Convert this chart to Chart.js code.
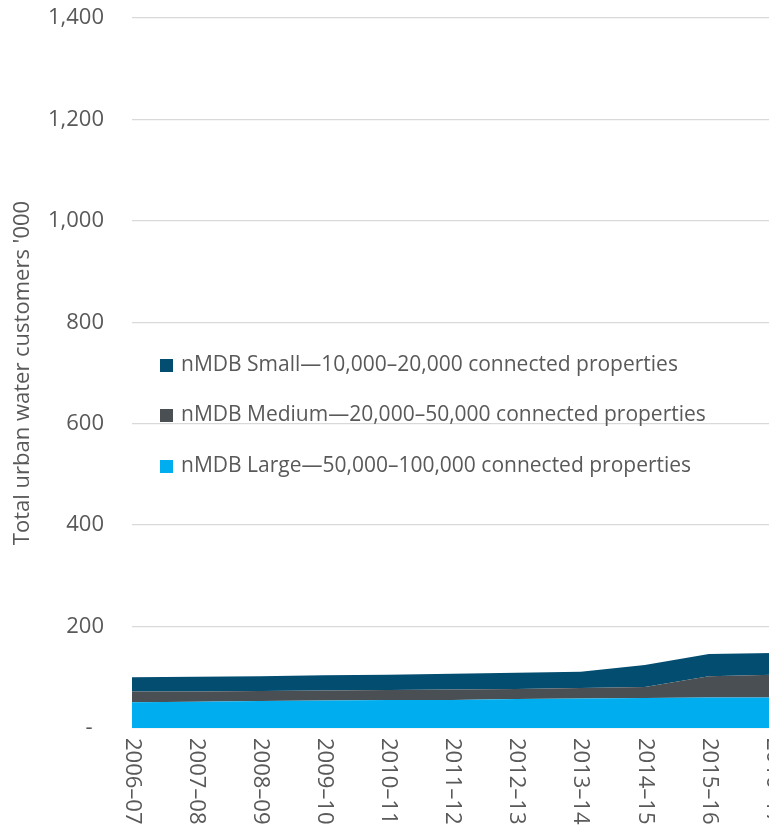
<!DOCTYPE html>
<html>
<head>
<meta charset="utf-8">
<script src="https://cdn.jsdelivr.net/npm/chart.js@4/dist/chart.umd.min.js"></script>
<style>
html,body{margin:0;padding:0;background:#fff;overflow:hidden;width:769px;height:834px;}
#wrap{width:790px;height:834px;}
</style>
</head>
<body>
<div id="wrap"><canvas id="c" width="790" height="834"></canvas></div>
<script>
const categories = ["2006–07","2007–08","2008–09","2009–10","2010–11","2011–12","2012–13","2013–14","2014–15","2015–16","2016–17"];
const largeValues  = [51, 52, 53, 54, 55, 55, 57, 58, 59, 60, 60];
const mediumValues = [21, 20, 20, 20, 20, 21, 20, 21, 22, 42, 45];
const smallValues  = [28, 29, 29, 30, 30, 31, 32, 32, 43, 44, 43];
const seriesNames = [
  "nMDB Large—50,000–100,000 connected properties",
  "nMDB Medium—20,000–50,000 connected properties",
  "nMDB Small—10,000–20,000 connected properties"
];
const yTicks = [0, 200, 400, 600, 800, 1000, 1200, 1400];
const yTitle = "Total urban water customers '000";

const FONT = "'Open Sans', sans-serif";
const TEXT = "#595959";

const xLabelPlugin = {
  id: 'xLabels',
  afterDraw(chart) {
    const ctx = chart.ctx, xs = chart.scales.x, area = chart.chartArea;
    ctx.save();
    ctx.font = "22px " + FONT;
    ctx.fillStyle = TEXT;
    ctx.textAlign = 'left';
    ctx.textBaseline = 'middle';
    xs.ticks.forEach((t, i) => {
      const x = xs.getPixelForTick(i);
      ctx.save();
      ctx.translate(x, area.bottom + 10);
      ctx.rotate(Math.PI / 2);
      ctx.fillText(categories[i], 0, 0);
      ctx.restore();
    });
    ctx.restore();
  }
};

const legendPlugin = {
  id: 'innerLegend',
  afterDraw(chart) {
    const ctx = chart.ctx;
    ctx.save();
    ctx.font = "21px " + FONT;
    ctx.textAlign = 'left';
    ctx.textBaseline = 'middle';
    const order = [2, 1, 0];
    const ys = [365, 415, 466];
    order.forEach((di, k) => {
      const ds = chart.data.datasets[di];
      ctx.fillStyle = ds.backgroundColor;
      ctx.fillRect(160, ys[k] - 6, 13, 13);
      ctx.fillStyle = TEXT;
      ctx.fillText(ds.label, 181, ys[k]);
    });
    ctx.restore();
  }
};

new Chart(document.getElementById('c'), {
  type: 'line',
  data: {
    labels: categories,
    datasets: [
      { label: seriesNames[0], data: largeValues, backgroundColor: '#00ADEE', borderWidth: 0, fill: 'origin', pointRadius: 0, tension: 0 },
      { label: seriesNames[1], data: mediumValues, backgroundColor: '#4A4F54', borderWidth: 0, fill: '-1', pointRadius: 0, tension: 0 },
      { label: seriesNames[2], data: smallValues, backgroundColor: '#034D71', borderWidth: 0, fill: '-1', pointRadius: 0, tension: 0 }
    ]
  },
  options: {
    responsive: false,
    animation: false,
    layout: { padding: { top: 18, right: 17, bottom: 98, left: 0 } },
    plugins: { legend: { display: false }, tooltip: { enabled: false } },
    scales: {
      x: {
        offset: false,
        grid: { display: false },
        border: { display: false },
        ticks: { display: false }
      },
      y: {
        stacked: true,
        min: 0, max: 1400,
        afterBuildTicks(scale) { scale.ticks = yTicks.map(v => ({ value: v })); },
        afterFit(scale) { scale.width = 132; scale.paddingTop = 0; scale.paddingBottom = 0; },
        grid: { color: '#D9D9D9', lineWidth: 1.3, drawTicks: false },
        border: { display: false },
        ticks: {
          padding: 28,
          color: TEXT,
          font: { family: FONT, size: 22 },
          callback: v => v === 0 ? '-  ' : v.toLocaleString('en-US')
        },
        title: {
          display: true,
          text: yTitle,
          color: TEXT,
          font: { family: FONT, size: 22 },
          padding: { top: 10, bottom: 0 }
        }
      }
    }
  },
  plugins: [xLabelPlugin, legendPlugin]
});
</script>
</body>
</html>
